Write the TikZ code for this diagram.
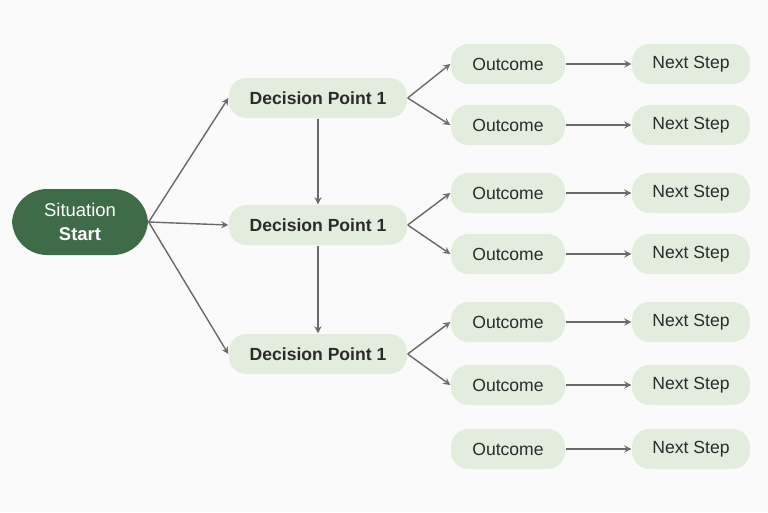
\documentclass[tikz,border=0pt]{standalone}
\usepackage{fontspec}
\setmainfont{Liberation Sans}
\usetikzlibrary{positioning}
\definecolor{startgreen}{HTML}{3E6B48}
\definecolor{boxgreen}{HTML}{E2EDDD}
\definecolor{inkgray}{HTML}{2B2B2B}
\definecolor{linegray}{HTML}{6A6A6A}
\begin{document}
\begin{tikzpicture}[x=0.02cm,y=-0.02cm,->,>=stealth,draw=linegray,thick]
    \tikzstyle{box}=[rounded corners=10pt,fill=boxgreen,draw=none,text=inkgray,minimum height=0.8cm,font=\fontsize{10}{12}\selectfont]
    \tikzstyle{start}=[box,fill=startgreen,text=white,rounded corners=20pt,minimum width=2.72cm,minimum height=1.32cm,align=center,font=\fontsize{10.5}{14}\selectfont]
    \tikzstyle{decision}=[box,minimum width=3.56cm,font=\fontsize{10}{12}\selectfont\bfseries]
    \tikzstyle{outcome}=[box,minimum width=2.28cm]
    \tikzstyle{next}=[box,minimum width=2.36cm]

    \fill[white!96!gray] (0,0) rectangle (768,512);
    \useasboundingbox (0,0) rectangle (768,512);

    % Start and decisions
    \node[start] (S) at (80,222) {Situation\\\textbf{Start}};
    \node[decision] (D-1) at (318,98) {Decision Point 1};
    \node[decision] (D-2) at (318,225) {Decision Point 1};
    \node[decision] (D-3) at (318,354) {Decision Point 1};

    % Outcomes and next steps
    \foreach \i/\y in {1/64,2/125,3/193,4/254,5/322,6/385,7/449} {
        \node[outcome] (O-\i) at (508,\y) {Outcome};
        \node[next] (N-\i) at (691,\y) {Next Step};
        \draw (O-\i) -- (N-\i);
    }

    \foreach \d in {1,2,3}
        \draw (S.east) -- (D-\d.west);
    \draw (D-1) -- (D-2);
    \draw (D-2) -- (D-3);
    \draw (D-1.east) -- (O-1.west);
    \draw (D-1.east) -- (O-2.west);
    \draw (D-2.east) -- (O-3.west);
    \draw (D-2.east) -- (O-4.west);
    \draw (D-3.east) -- (O-5.west);
    \draw (D-3.east) -- (O-6.west);
\end{tikzpicture}
\end{document}
